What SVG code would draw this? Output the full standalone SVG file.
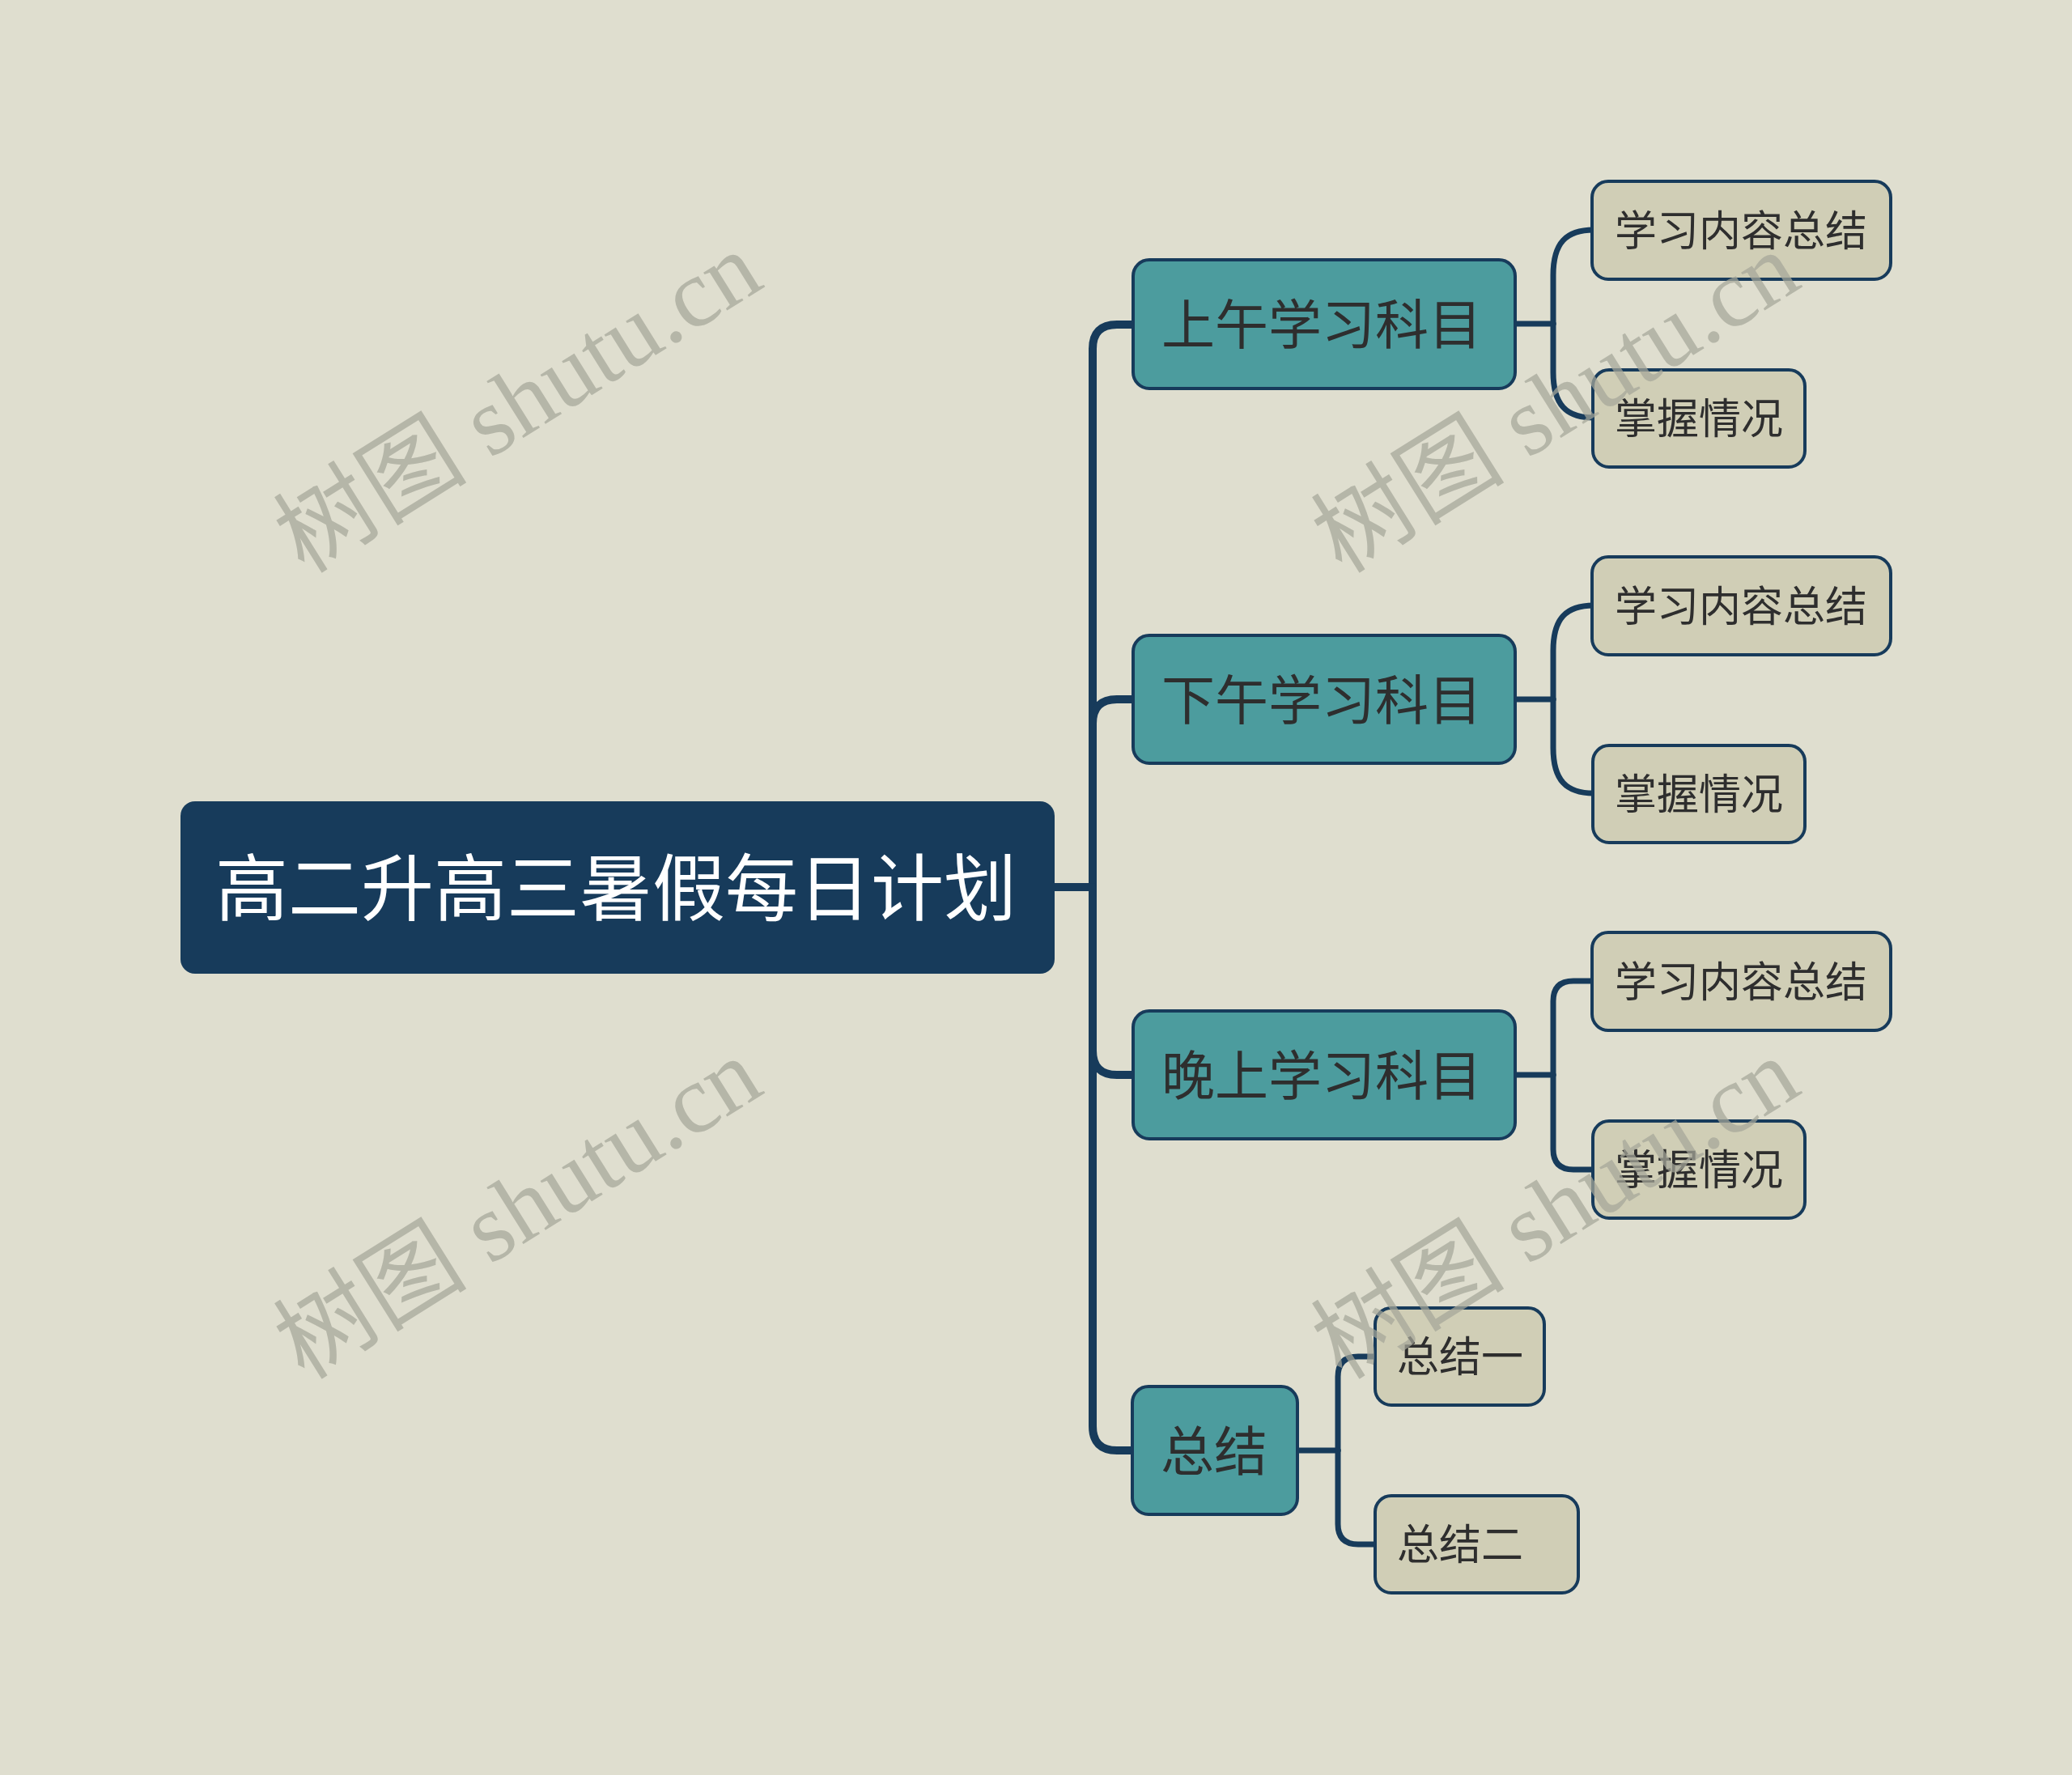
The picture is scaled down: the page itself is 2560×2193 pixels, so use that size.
<svg xmlns="http://www.w3.org/2000/svg" width="2560" height="2193" viewBox="0 0 2560 2193">
<style>
.main{fill:none;stroke:#173b5b;stroke-width:10;stroke-linecap:round;stroke-linejoin:round}
.sub{fill:none;stroke:#173b5b;stroke-width:7;stroke-linecap:round;stroke-linejoin:round}
.root rect{fill:#173b5b}
.root text{fill:#ffffff;font-size:90px}
.l1 rect{fill:#4c9c9e;stroke:#173b5b;stroke-width:4}
.l1 text{fill:#2e2e2e;font-size:66px}
.l2 rect{fill:#d0ceb6;stroke:#173b5b;stroke-width:4}
.l2 text{fill:#2e2e2e;font-size:52px}
text{font-family:"Noto Sans CJK SC","Noto Sans",sans-serif;dominant-baseline:central}
.wm{font-family:"Liberation Serif","Noto Sans CJK SC",serif;font-size:120px;fill:#a6a79a;opacity:0.72;dominant-baseline:alphabetic}
</style>
<rect x="0" y="0" width="2560" height="2193" fill="#dfdecf"/>
<g id="connectors">
<path class="main" d="M1303,1096 H1350"/>
<path class="main" d="M1350,1096 V431 Q1350,401 1380,401 H1402"/>
<path class="main" d="M1350,1096 V894 Q1350,864 1380,864 H1402"/>
<path class="main" d="M1350,1096 V1298 Q1350,1328 1380,1328 H1402"/>
<path class="main" d="M1350,1096 V1762 Q1350,1792 1380,1792 H1401"/>
<path class="sub" d="M1872,400 H1919"/>
<path class="sub" d="M1919,400 V340 C1919,300 1935,284 1969,284"/>
<path class="sub" d="M1919,400 V460 C1919,500 1935,516 1969,516"/>
<path class="sub" d="M1872,864 H1919"/>
<path class="sub" d="M1919,864 V804 C1919,764 1935,748 1969,748"/>
<path class="sub" d="M1919,864 V924 C1919,964 1935,980 1969,980"/>
<path class="sub" d="M1872,1328 H1919"/>
<path class="sub" d="M1919,1328 V1237 Q1919,1212 1944,1212 H1969"/>
<path class="sub" d="M1919,1328 V1420 Q1919,1445 1944,1445 H1969"/>
<path class="sub" d="M1603,1792 H1653"/>
<path class="sub" d="M1653,1792 V1701 Q1653,1676 1678,1676 H1701"/>
<path class="sub" d="M1653,1792 V1883 Q1653,1908 1678,1908 H1701"/>
</g>
<g id="root" class="root">
<rect x="223" y="990" width="1080" height="213" rx="18"/>
<text x="761" y="1091" text-anchor="middle">高二升高三暑假每日计划</text>
</g>
<g id="n1" class="l1">
<rect x="1400" y="321" width="472" height="159" rx="20"/>
<text x="1435" y="396">上午学习科目</text>
</g>
<g id="n2" class="l1">
<rect x="1400" y="785" width="472" height="158" rx="20"/>
<text x="1435" y="860">下午学习科目</text>
</g>
<g id="n3" class="l1">
<rect x="1400" y="1249" width="472" height="158" rx="20"/>
<text x="1435" y="1324">晚上学习科目</text>
</g>
<g id="n4" class="l1">
<rect x="1399" y="1713" width="204" height="158" rx="20"/>
<text x="1434" y="1788">总结</text>
</g>
<g id="n1a" class="l2">
<rect x="1967" y="224" width="369" height="121" rx="20"/>
<text x="1995" y="281">学习内容总结</text>
</g>
<g id="n1b" class="l2">
<rect x="1968" y="457" width="262" height="120" rx="20"/>
<text x="1995" y="513">掌握情况</text>
</g>
<g id="n2a" class="l2">
<rect x="1967" y="688" width="369" height="121" rx="20"/>
<text x="1995" y="745">学习内容总结</text>
</g>
<g id="n2b" class="l2">
<rect x="1968" y="921" width="262" height="120" rx="20"/>
<text x="1995" y="977">掌握情况</text>
</g>
<g id="n3a" class="l2">
<rect x="1967" y="1152" width="369" height="121" rx="20"/>
<text x="1995" y="1209">学习内容总结</text>
</g>
<g id="n3b" class="l2">
<rect x="1968" y="1385" width="262" height="120" rx="20"/>
<text x="1995" y="1441">掌握情况</text>
</g>
<g id="n4a" class="l2">
<rect x="1699" y="1616" width="209" height="120" rx="20"/>
<text x="1726" y="1672">总结一</text>
</g>
<g id="n4b" class="l2">
<rect x="1699" y="1848" width="251" height="120" rx="20"/>
<text x="1726" y="1904">总结二</text>
</g>
<g id="watermarks">
<text class="wm" transform="translate(376,710) rotate(-32)">树图 shutu.cn</text>
<text class="wm" transform="translate(1658,710) rotate(-32)">树图 shutu.cn</text>
<text class="wm" transform="translate(376,1706) rotate(-32)">树图 shutu.cn</text>
<text class="wm" transform="translate(1658,1706) rotate(-32)">树图 shutu.cn</text>
</g>
</svg>
